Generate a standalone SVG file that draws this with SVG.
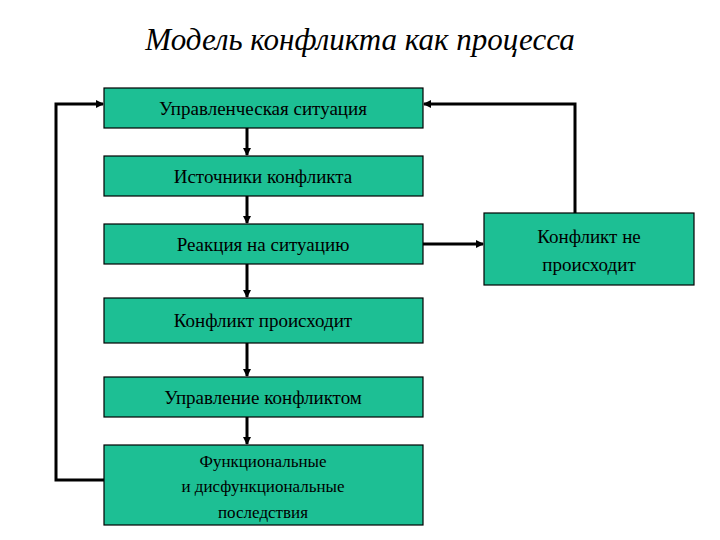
<svg xmlns="http://www.w3.org/2000/svg" width="720" height="540" viewBox="0 0 720 540">
<style>
.b{fill:#1dbf94;stroke:#000;stroke-width:1.2}
.t{font-family:"Liberation Serif",serif;font-size:19px;fill:#000;text-anchor:middle}
.c{stroke:#000;stroke-width:3;fill:none}
</style>
<defs><marker id="a" markerWidth="8" markerHeight="8" refX="7" refY="4" orient="auto" markerUnits="userSpaceOnUse"><path d="M0,0L8,4L0,8z"/></marker></defs>
<rect width="720" height="540" fill="#fff"/>
<text x="360" y="50" style="font-family:'Liberation Serif',serif;font-size:31px;font-style:italic" text-anchor="middle">Модель конфликта как процесса</text>
<g id="connectors">
<line class="c" x1="247" y1="128" x2="247" y2="155" marker-end="url(#a)"/>
<line class="c" x1="247" y1="196" x2="247" y2="223" marker-end="url(#a)"/>
<line class="c" x1="247" y1="264" x2="247" y2="297" marker-end="url(#a)"/>
<line class="c" x1="247" y1="343" x2="247" y2="376" marker-end="url(#a)"/>
<line class="c" x1="247" y1="417" x2="247" y2="444" marker-end="url(#a)"/>
<line class="c" x1="423" y1="244" x2="483" y2="244" marker-end="url(#a)"/>
<polyline class="c" points="104,480 56,480 56,104 103,104" marker-end="url(#a)"/>
<polyline class="c" points="575,213 575,104 424,104" marker-end="url(#a)"/>
</g>
<g id="n1"><rect class="b" x="104" y="88" width="319" height="40"/><text class="t" x="263" y="115">Управленческая ситуация</text></g>
<g id="n2"><rect class="b" x="104" y="156" width="319" height="40"/><text class="t" x="263" y="183">Источники конфликта</text></g>
<g id="n3"><rect class="b" x="104" y="224" width="319" height="40"/><text class="t" x="263" y="251">Реакция на ситуацию</text></g>
<g id="n4"><rect class="b" x="104" y="298" width="319" height="45"/><text class="t" x="263" y="327">Конфликт происходит</text></g>
<g id="n5"><rect class="b" x="104" y="377" width="319" height="40"/><text class="t" x="263" y="404">Управление конфликтом</text></g>
<g id="n6"><rect class="b" x="104" y="445" width="319" height="80"/><text class="t" x="263" y="467" style="font-size:17px">Функциональные</text><text class="t" x="263" y="492" style="font-size:17px">и дисфункциональные</text><text class="t" x="263" y="518" style="font-size:17px">последствия</text></g>
<g id="n7"><rect class="b" x="484" y="213" width="210" height="72"/><text class="t" x="589" y="243">Конфликт не</text><text class="t" x="589" y="271">происходит</text></g>
</svg>
